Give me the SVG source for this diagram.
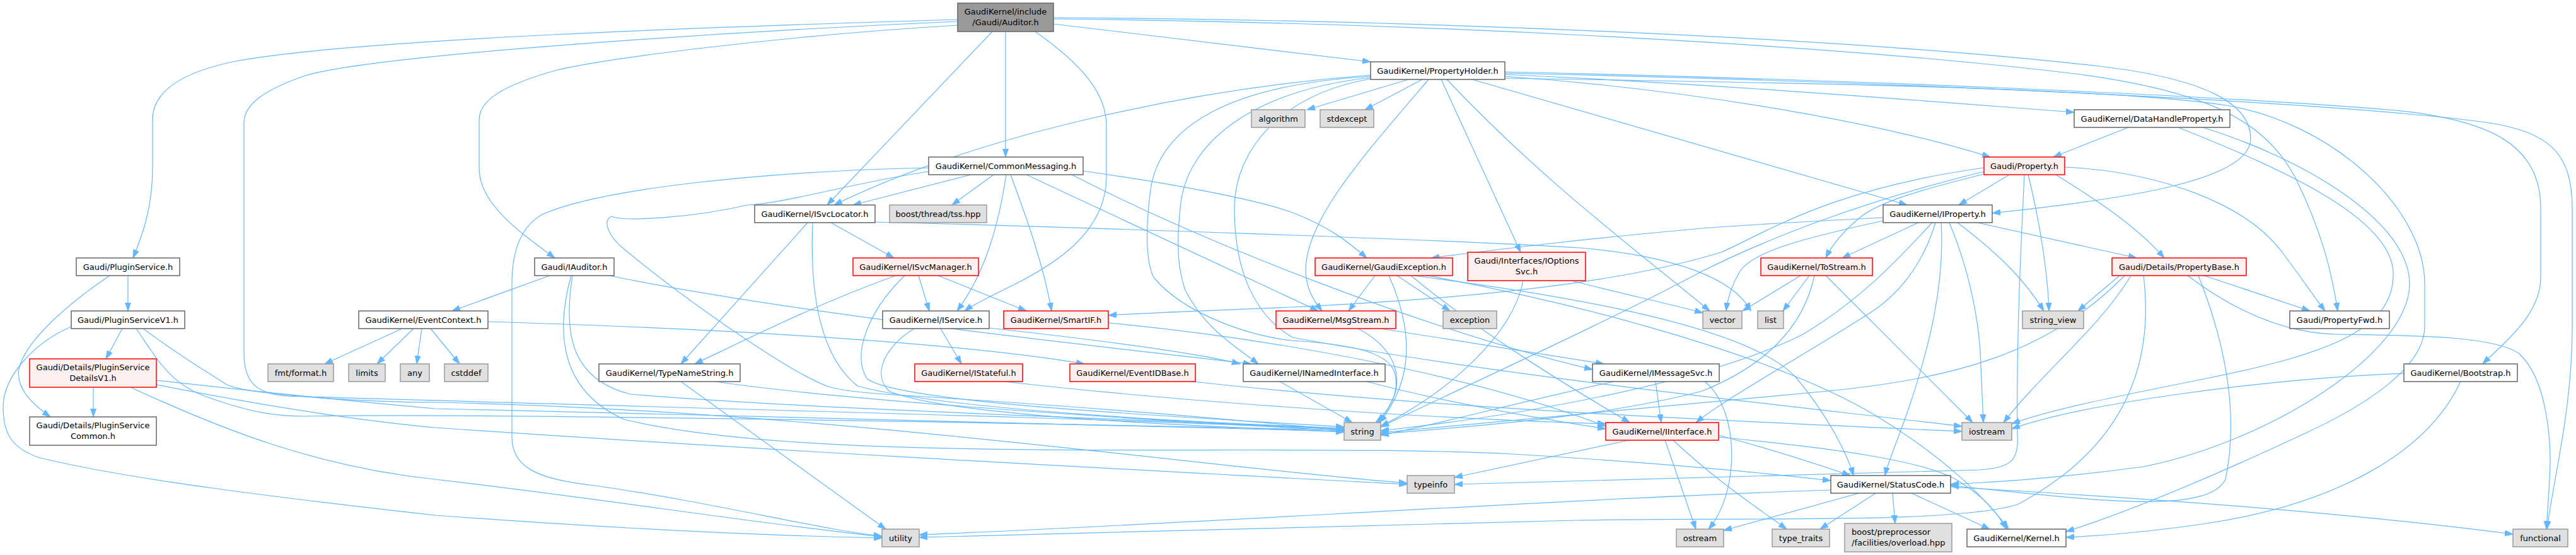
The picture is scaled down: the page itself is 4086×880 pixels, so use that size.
<svg xmlns="http://www.w3.org/2000/svg" width="4086" height="880" viewBox="0 0 4086 880">
<style>
.n rect{fill:#ffffff;stroke:#666666;stroke-width:1.5}
.r rect{fill:#fff0f0;stroke:#ff0000;stroke-width:1.5}
.x rect{fill:#e0e0e0;stroke:#999999;stroke-width:1.5}
.root rect{fill:#999999;stroke:#666666;stroke-width:1.5}
text{font-family:"DejaVu Sans","Liberation Sans",sans-serif;font-size:13px;fill:#000000;text-anchor:middle}
#edges path{fill:none;stroke:#63b8ff;stroke-width:1.2;marker-end:url(#ah)}
</style>
<defs>
<marker id="ah" markerUnits="userSpaceOnUse" markerWidth="14" markerHeight="10" refX="13" refY="5" orient="auto" viewBox="0 0 14 10"><path d="M0,0.5 L13,5 L0,9.5 z" fill="#63b8ff" stroke="#63b8ff" stroke-width="1"/></marker>
</defs>
<rect x="0" y="0" width="4086" height="880" fill="#ffffff"/>
<g id="edges">
<path d="M1519,31 C1150,42 560,62 374,97 C300,112 242,140 242,190 L242,265 C242,330 226,372 211,409"/>
<path d="M1519,34 C1200,48 600,85 484,120 C420,142 387,165 387,195 L387,560 C387,605 405,624 455,628 C900,642 1800,664 2132,681"/>
<path d="M1519,40 C1250,56 960,92 880,112 C795,136 760,160 760,190 L760,267 C760,325 830,372 880,409"/>
<path d="M1574,50 L1312,325"/>
<path d="M1595,50 L1595,249"/>
<path d="M1642,50 C1720,105 1755,150 1755,200 L1755,280 C1755,370 1670,420 1611,450 C1575,468 1548,480 1530,493"/>
<path d="M1671,38 L2174,98"/>
<path d="M1671,28 C2300,32 2950,62 3330,105 C3500,125 3570,165 3570,220 C3570,285 3380,315 3160,338"/>
<path d="M1671,30 C2300,36 2950,75 3300,118 C3500,145 3590,190 3640,280 C3685,370 3700,440 3708,493"/>
<path d="M2234,126 L2073,174"/>
<path d="M2256,126 L2165,174"/>
<path d="M2266,126 C2160,250 2070,350 2071,430 C2072,460 2085,478 2097,493"/>
<path d="M2286,126 L2412,400"/>
<path d="M2295,126 C2450,290 2600,400 2712,493"/>
<path d="M2335,126 L3025,325"/>
<path d="M2387,121 C2650,140 2950,185 3157,249"/>
<path d="M2387,118 C2750,135 3050,160 3290,178"/>
<path d="M2174,119 C1900,140 1560,210 1323,325"/>
<path d="M2387,114 C2900,125 3500,150 3800,175 C3950,190 4030,230 4030,330 L4030,440 C4030,500 3970,545 3938,577"/>
<path d="M2387,116 C2950,128 3700,160 3950,195 C4040,210 4080,240 4080,330 L4080,520 C4080,650 4050,760 4040,839"/>
<path d="M2174,121 C1950,135 1840,200 1825,300 C1815,380 1820,420 1830,440 C1880,500 1990,535 2050,540 C2130,545 2200,555 2212,590 C2222,625 2200,650 2186,670"/>
<path d="M2174,123 C1980,145 1880,230 1872,330 C1865,400 1870,430 1880,460 C1910,520 1960,550 1996,577"/>
<path d="M2174,125 C2030,150 1958,240 1958,330 C1958,430 1990,500 2050,535 C2400,600 2900,650 3112,676"/>
<path d="M2387,124 C2900,132 3350,140 3531,167 C3700,195 3846,330 3846,450 L3846,517 C3846,580 3760,640 3650,690 C3500,760 3380,810 3277,843"/>
<path d="M1540,277 L1353,325"/>
<path d="M1576,277 L1510,325"/>
<path d="M1596,277 C1585,350 1565,430 1518,493"/>
<path d="M1603,277 C1630,350 1655,420 1668,493"/>
<path d="M1628,277 L2091,493"/>
<path d="M1718,271 C1850,290 1990,315 2050,337 C2110,360 2140,385 2168,409"/>
<path d="M1473,266 C1200,272 950,300 860,340 C825,360 812,400 812,450 L812,693 C812,740 850,760 944,770 C1150,800 1300,840 1399,850"/>
<path d="M1473,272 C1350,290 1250,322 1186,325 C1100,345 990,352 970,343 C955,350 965,375 990,395 C1080,470 1250,590 1314,613 C1345,622 1400,625 1450,628 C1800,650 2000,670 2132,682"/>
<path d="M1700,277 C1900,380 2250,520 2526,586"/>
<path d="M1318,353 L1418,409"/>
<path d="M1281,353 L1080,577"/>
<path d="M1388,352 C1700,360 2300,380 2506,393 C2650,405 2750,440 2777,493"/>
<path d="M1289,353 C1285,450 1295,560 1360,612 C1500,650 1900,670 2132,679"/>
<path d="M1457,437 L1474,493"/>
<path d="M1488,437 L1628,493"/>
<path d="M1421,437 C1300,480 1180,540 1102,577"/>
<path d="M1435,437 C1380,490 1350,560 1375,600 C1420,640 1900,662 2132,677"/>
<path d="M1492,521 L1525,577"/>
<path d="M1569,520 C1750,540 1900,560 1967,577"/>
<path d="M1450,521 C1410,545 1380,590 1410,620 C1500,660 1900,676 2132,685"/>
<path d="M872,437 L717,493"/>
<path d="M966,437 C1250,495 1700,545 1985,577"/>
<path d="M908,437 C895,520 900,600 1000,625 C1300,650 1800,664 2132,680"/>
<path d="M906,437 C880,530 890,620 990,665 C1300,740 2000,700 2400,720 C2650,735 2800,750 2904,762"/>
<path d="M203,437 L203,493"/>
<path d="M174,437 C110,480 40,540 30,585 C25,615 50,640 80,661"/>
<path d="M194,521 L168,569"/>
<path d="M113,518 C50,545 5,600 5,645 C5,690 20,710 60,725 C200,760 450,790 690,817 C1000,840 1250,850 1399,853"/>
<path d="M216,521 C250,570 270,610 330,630 C400,655 440,660 484,660 C700,655 1500,668 2132,682"/>
<path d="M227,521 C280,560 320,585 360,610 C400,628 600,638 690,638 C1300,650 1900,740 2232,766"/>
<path d="M148,614 L148,661"/>
<path d="M248,603 C400,620 600,640 690,648 C1200,660 1800,675 2132,684"/>
<path d="M248,610 C400,640 550,665 690,678 C1300,720 1900,750 2232,768"/>
<path d="M207,614 C350,680 500,740 690,760 C950,790 1200,830 1399,851"/>
<path d="M638,521 L515,577"/>
<path d="M656,521 L598,577"/>
<path d="M669,521 L661,577"/>
<path d="M683,521 L729,577"/>
<path d="M774,510 C1100,520 1500,540 1720,577"/>
<path d="M1080,605 L1405,839"/>
<path d="M1135,605 C1300,630 1700,660 2132,683"/>
<path d="M1593,605 C1900,640 2300,665 2547,672"/>
<path d="M1758,512 C2050,540 2350,600 2547,676"/>
<path d="M2168,605 C2300,640 2450,665 2547,680"/>
<path d="M2030,605 L2145,670"/>
<path d="M1892,605 C2300,650 2800,670 3112,684"/>
<path d="M2190,521 L2544,577"/>
<path d="M2154,521 C2200,545 2222,580 2214,620 C2206,645 2195,660 2182,670"/>
<path d="M2181,437 L2139,493"/>
<path d="M2216,437 L2300,493"/>
<path d="M2203,437 C2240,520 2245,600 2188,670"/>
<path d="M2238,437 C2350,530 2500,620 2585,670"/>
<path d="M2242,437 C2500,470 2780,520 2850,600 C2900,660 2930,720 2940,754"/>
<path d="M2264,437 C2500,480 2800,560 2960,650 C3080,720 3150,790 3186,839"/>
<path d="M2493,445 C2570,465 2640,480 2701,496"/>
<path d="M2416,445 C2400,530 2300,620 2190,676"/>
<path d="M2626,605 L2635,670"/>
<path d="M2560,605 C2400,640 2250,680 2190,690"/>
<path d="M2704,605 C2760,650 2760,780 2710,839"/>
<path d="M3187,277 L3107,325"/>
<path d="M3147,276 C3050,300 2980,320 2950,345 C2920,370 2905,390 2896,409"/>
<path d="M3261,277 C3330,320 3390,360 3433,409"/>
<path d="M3217,277 C3235,350 3248,430 3250,493"/>
<path d="M3211,277 C3205,400 3198,550 3200,690 C3202,730 3190,742 3140,745 C2800,752 2500,762 2307,768"/>
<path d="M3147,266 C2900,300 2800,370 2730,400 C2600,440 2400,470 2050,487 C1900,493 1800,497 1758,500"/>
<path d="M3147,272 C2950,320 2800,380 2700,430 C2550,510 2350,600 2190,677"/>
<path d="M3275,265 C3420,272 3560,320 3620,400 C3650,440 3670,470 3688,493"/>
<path d="M3043,353 L2922,409"/>
<path d="M3136,353 L3389,409"/>
<path d="M3092,353 C3120,420 3140,500 3142,580 C3144,620 3145,650 3146,670"/>
<path d="M3105,353 C3180,410 3215,450 3242,493"/>
<path d="M2987,350 C2850,380 2780,400 2760,430 C2745,455 2740,475 2738,493"/>
<path d="M3065,353 C3020,400 2960,470 2860,530 C2700,610 2400,660 2190,683"/>
<path d="M3070,353 C3050,420 3010,470 2960,500 C2850,570 2740,630 2690,670"/>
<path d="M3079,353 C3085,450 3060,550 3030,640 C3010,700 2995,730 2990,754"/>
<path d="M2987,345 C2850,352 2750,358 2700,362 C2500,380 2380,395 2270,409"/>
<path d="M2856,437 L2764,493"/>
<path d="M2870,437 L2828,493"/>
<path d="M2896,437 C2980,520 3060,600 3129,670"/>
<path d="M2878,437 C2860,520 2800,580 2700,620 C2550,660 2350,675 2190,688"/>
<path d="M3496,437 L3664,493"/>
<path d="M3470,437 C3540,490 3620,528 3706,530 C3800,532 3950,530 3995,560 C4040,600 4048,700 4044,760 C4042,800 4040,820 4039,839"/>
<path d="M3362,437 L3296,493"/>
<path d="M3380,437 C3330,520 3240,590 3178,670"/>
<path d="M3487,437 C3520,520 3555,640 3530,760 C3500,820 3300,790 3094,770"/>
<path d="M3370,437 C3250,560 3100,600 2900,620 C2600,650 2350,670 2190,686"/>
<path d="M3400,437 C3420,600 3350,720 3200,800 C3100,830 2800,820 2500,825 C2000,835 1700,845 1458,852"/>
<path d="M2949,782 L2734,841"/>
<path d="M2975,782 L2887,839"/>
<path d="M3002,782 L3006,830"/>
<path d="M3032,782 L3156,839"/>
<path d="M3094,772 C3400,790 3700,810 3986,847"/>
<path d="M2904,777 C2500,790 1900,830 1458,848"/>
<path d="M2584,698 L2307,757"/>
<path d="M2641,698 L2690,839"/>
<path d="M2726,690 C2800,710 2880,735 2935,754"/>
<path d="M2654,698 C2720,760 2780,800 2834,839"/>
<path d="M2726,693 C2900,710 3060,730 3110,765 C3150,790 3170,815 3182,839"/>
<path d="M3376,202 L3257,249"/>
<path d="M3455,202 C3600,260 3790,340 3796,430 C3800,520 3700,560 3500,600 C3350,630 3250,650 3191,672"/>
<path d="M3494,202 C3650,250 3822,350 3822,450 C3822,560 3600,700 3400,740 C3250,760 3150,765 3094,768"/>
<path d="M3903,605 C3850,720 3700,800 3500,830 C3400,845 3320,850 3277,852"/>
<path d="M3813,592 C3600,600 3300,640 3191,680"/>
</g>
<g id="node-auditor" class="root"><rect x="1519" y="5" width="152" height="45"/><text x="1595" y="23">GaudiKernel/include</text><text x="1595" y="40">/Gaudi/Auditor.h</text></g>
<g id="node-propertyholder" class="n"><rect x="2174" y="98" width="213" height="28"/><text x="2280.5" y="116.7">GaudiKernel/PropertyHolder.h</text></g>
<g id="node-algorithm" class="x"><rect x="1985" y="174" width="85" height="28"/><text x="2027.5" y="192.7">algorithm</text></g>
<g id="node-stdexcept" class="x"><rect x="2094" y="174" width="85" height="28"/><text x="2136.5" y="192.7">stdexcept</text></g>
<g id="node-datahandleproperty" class="n"><rect x="3290" y="174" width="247" height="28"/><text x="3413.5" y="192.7">GaudiKernel/DataHandleProperty.h</text></g>
<g id="node-commonmessaging" class="n"><rect x="1473" y="249" width="245" height="28"/><text x="1595.5" y="267.7">GaudiKernel/CommonMessaging.h</text></g>
<g id="node-property" class="r"><rect x="3147" y="249" width="128" height="28"/><text x="3211" y="267.7">Gaudi/Property.h</text></g>
<g id="node-isvclocator" class="n"><rect x="1197" y="325" width="191" height="28"/><text x="1292.5" y="343.7">GaudiKernel/ISvcLocator.h</text></g>
<g id="node-tss" class="x"><rect x="1411" y="325" width="154" height="28"/><text x="1488" y="343.7">boost/thread/tss.hpp</text></g>
<g id="node-iproperty" class="n"><rect x="2987" y="325" width="173" height="28"/><text x="3073.5" y="343.7">GaudiKernel/IProperty.h</text></g>
<g id="node-pluginservice" class="n"><rect x="121" y="409" width="164" height="28"/><text x="203" y="427.7">Gaudi/PluginService.h</text></g>
<g id="node-iauditor" class="n"><rect x="848" y="409" width="126" height="28"/><text x="911" y="427.7">Gaudi/IAuditor.h</text></g>
<g id="node-isvcmanager" class="r"><rect x="1353" y="409" width="199" height="28"/><text x="1452.5" y="427.7">GaudiKernel/ISvcManager.h</text></g>
<g id="node-gaudiexception" class="r"><rect x="2086" y="409" width="218" height="28"/><text x="2195" y="427.7">GaudiKernel/GaudiException.h</text></g>
<g id="node-ioptionssvc" class="r"><rect x="2328" y="400" width="187" height="45"/><text x="2421.5" y="418.3">Gaudi/Interfaces/IOptions</text><text x="2421.5" y="435">Svc.h</text></g>
<g id="node-tostream" class="r"><rect x="2793" y="409" width="177" height="28"/><text x="2881.5" y="427.7">GaudiKernel/ToStream.h</text></g>
<g id="node-propertybase" class="r"><rect x="3350" y="409" width="213" height="28"/><text x="3456.5" y="427.7">Gaudi/Details/PropertyBase.h</text></g>
<g id="node-pluginservicev1" class="n"><rect x="113" y="493" width="180" height="28"/><text x="203" y="511.7">Gaudi/PluginServiceV1.h</text></g>
<g id="node-eventcontext" class="n"><rect x="569" y="493" width="205" height="28"/><text x="671.5" y="511.7">GaudiKernel/EventContext.h</text></g>
<g id="node-iservice" class="n"><rect x="1400" y="493" width="169" height="28"/><text x="1484.5" y="511.7">GaudiKernel/IService.h</text></g>
<g id="node-smartif" class="r"><rect x="1592" y="493" width="166" height="28"/><text x="1675" y="511.7">GaudiKernel/SmartIF.h</text></g>
<g id="node-msgstream" class="r"><rect x="2024" y="493" width="190" height="28"/><text x="2119" y="511.7">GaudiKernel/MsgStream.h</text></g>
<g id="node-exception" class="x"><rect x="2289" y="493" width="85" height="28"/><text x="2331.5" y="511.7">exception</text></g>
<g id="node-vector" class="x"><rect x="2701" y="493" width="62" height="28"/><text x="2732" y="511.7">vector</text></g>
<g id="node-list" class="x"><rect x="2788" y="493" width="41" height="28"/><text x="2808.5" y="511.7">list</text></g>
<g id="node-string_view" class="x"><rect x="3208" y="493" width="97" height="28"/><text x="3256.5" y="511.7">string_view</text></g>
<g id="node-propertyfwd" class="n"><rect x="3632" y="493" width="158" height="28"/><text x="3711" y="511.7">Gaudi/PropertyFwd.h</text></g>
<g id="node-detailsv1" class="r"><rect x="47" y="569" width="201" height="45"/><text x="147.5" y="587.3">Gaudi/Details/PluginService</text><text x="147.5" y="604">DetailsV1.h</text></g>
<g id="node-fmt" class="x"><rect x="425" y="577" width="104" height="28"/><text x="477" y="595.7">fmt/format.h</text></g>
<g id="node-limits" class="x"><rect x="553" y="577" width="58" height="28"/><text x="582" y="595.7">limits</text></g>
<g id="node-any" class="x"><rect x="635" y="577" width="46" height="28"/><text x="658" y="595.7">any</text></g>
<g id="node-cstddef" class="x"><rect x="705" y="577" width="69" height="28"/><text x="739.5" y="595.7">cstddef</text></g>
<g id="node-typenamestring" class="n"><rect x="950" y="577" width="224" height="28"/><text x="1062" y="595.7">GaudiKernel/TypeNameString.h</text></g>
<g id="node-istateful" class="r"><rect x="1451" y="577" width="171" height="28"/><text x="1536.5" y="595.7">GaudiKernel/IStateful.h</text></g>
<g id="node-eventidbase" class="r"><rect x="1697" y="577" width="199" height="28"/><text x="1796.5" y="595.7">GaudiKernel/EventIDBase.h</text></g>
<g id="node-inamedinterface" class="n"><rect x="1972" y="577" width="225" height="28"/><text x="2084.5" y="595.7">GaudiKernel/INamedInterface.h</text></g>
<g id="node-imessagesvc" class="n"><rect x="2526" y="577" width="201" height="28"/><text x="2626.5" y="595.7">GaudiKernel/IMessageSvc.h</text></g>
<g id="node-bootstrap" class="n"><rect x="3813" y="577" width="180" height="28"/><text x="3903" y="595.7">GaudiKernel/Bootstrap.h</text></g>
<g id="node-common" class="n"><rect x="47" y="661" width="201" height="45"/><text x="147.5" y="679.3">Gaudi/Details/PluginService</text><text x="147.5" y="696">Common.h</text></g>
<g id="node-string" class="x"><rect x="2132" y="670" width="58" height="28"/><text x="2161" y="688.7">string</text></g>
<g id="node-iinterface" class="r"><rect x="2547" y="670" width="179" height="28"/><text x="2636.5" y="688.7">GaudiKernel/IInterface.h</text></g>
<g id="node-iostream" class="x"><rect x="3112" y="670" width="79" height="28"/><text x="3151.5" y="688.7">iostream</text></g>
<g id="node-typeinfo" class="x"><rect x="2232" y="754" width="75" height="28"/><text x="2269.5" y="772.7">typeinfo</text></g>
<g id="node-statuscode" class="n"><rect x="2904" y="754" width="190" height="28"/><text x="2999" y="772.7">GaudiKernel/StatusCode.h</text></g>
<g id="node-utility" class="x"><rect x="1399" y="839" width="59" height="28"/><text x="1428.5" y="857.7">utility</text></g>
<g id="node-ostream" class="x"><rect x="2659" y="839" width="75" height="28"/><text x="2696.5" y="857.7">ostream</text></g>
<g id="node-type_traits" class="x"><rect x="2811" y="839" width="91" height="28"/><text x="2856.5" y="857.7">type_traits</text></g>
<g id="node-overload" class="x"><rect x="2926" y="830" width="170" height="45"/><text x="2937" y="848.3" style="text-anchor:start">boost/preprocessor</text><text x="2937" y="865" style="text-anchor:start">/facilities/overload.hpp</text></g>
<g id="node-kernel" class="n"><rect x="3120" y="839" width="157" height="28"/><text x="3198.5" y="857.7">GaudiKernel/Kernel.h</text></g>
<g id="node-functional" class="x"><rect x="3986" y="839" width="87" height="28"/><text x="4029.5" y="857.7">functional</text></g>
</svg>
